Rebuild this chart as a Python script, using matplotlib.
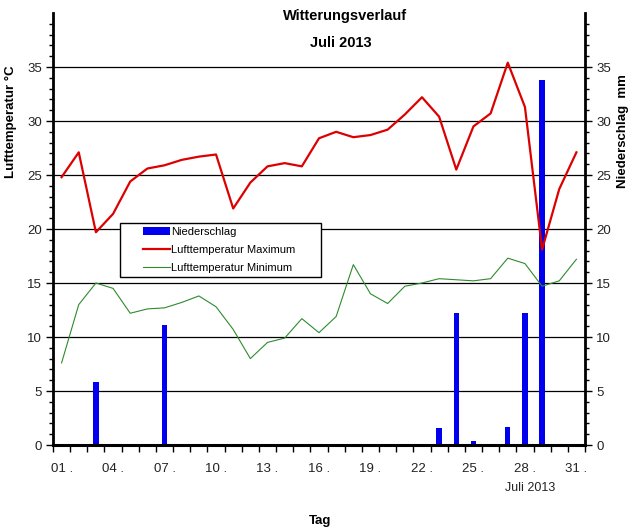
import matplotlib
matplotlib.use("Agg")
import matplotlib.pyplot as plt
from matplotlib.patches import Rectangle
import numpy as np

plt.rcParams['font.family'] = ['Liberation Sans', 'DejaVu Sans']

days = list(range(1, 32))
tmax = [24.8, 27.1, 19.7, 21.4, 24.4, 25.6, 25.9, 26.4, 26.7, 26.9,
        21.9, 24.3, 25.8, 26.1, 25.8, 28.4, 29.0, 28.5, 28.7, 29.2,
        30.6, 32.2, 30.4, 25.5, 29.5, 30.7, 35.4, 31.3, 18.1, 23.7, 27.1]
tmin = [7.6, 13.0, 15.0, 14.5, 12.2, 12.6, 12.7, 13.2, 13.8, 12.8,
        10.7, 8.0, 9.5, 9.9, 11.7, 10.4, 11.9, 16.7, 14.0, 13.1,
        14.7, 15.0, 15.4, 15.3, 15.2, 15.4, 17.3, 16.8, 14.7, 15.2, 17.2]
rain = [0, 0, 5.8, 0, 0, 0, 11.1, 0, 0, 0,
        0, 0, 0, 0, 0, 0, 0, 0, 0, 0,
        0, 0, 1.6, 12.2, 0.4, 0, 1.7, 12.2, 33.8, 0, 0]
tick_days = ["01", "04", "07", "10", "13", "16", "19", "22", "25", "28", "31"]

W, H = 634, 532
fig = plt.figure(figsize=(W/100, H/100), dpi=100)
ax = fig.add_axes([53/W, 1-445/H, (585-53)/W, 432/H])

x = np.array(days)
bars = ax.bar(x, rain, width=0.31, color='#0000EE', zorder=2, label='Niederschlag')
l1, = ax.plot(x, tmax, color='#DD0000', lw=1.6, zorder=4, label='Lufttemperatur Maximum')
l2, = ax.plot(x, tmin, color='#2E8B2E', lw=0.8, zorder=3, label='Lufttemperatur Minimum')

ax.set_xlim(0.5, 31.5)
ax.set_ylim(0, 40)
for v in range(5, 40, 5):
    ax.axhline(v, color='black', lw=0.9, zorder=1)

ax.set_yticks(range(0, 40, 5))
ax.set_yticks(range(0, 40, 1), minor=True)
ax.tick_params(axis='y', which='major', length=5, width=1, labelsize=9.5, pad=3, labelcolor='#222222')
ax.tick_params(axis='y', which='minor', length=3, width=1)

ax.set_xticks(np.arange(0.5, 32, 1))
ax.set_xticklabels([])
lab_pos = [int(d) for d in tick_days]
ax.set_xticks(lab_pos, minor=True)
ax.set_xticklabels([d + " ." for d in tick_days], minor=True)
ax.tick_params(axis='x', which='major', length=5, width=1)
ax.tick_params(axis='x', which='minor', length=0, labelsize=9.5, pad=13, labelcolor='#222222')

ax.spines['top'].set_visible(False)
ax.spines['right'].set_visible(False)
ax.spines['left'].set_linewidth(2)
ax.spines['bottom'].set_linewidth(2.2)

ax2 = ax.twinx()
ax2.set_ylim(0, 40)
ax2.set_yticks(range(0, 40, 5))
ax2.set_yticks(range(0, 40, 1), minor=True)
ax2.tick_params(axis='y', which='major', length=5, width=1, labelsize=9.5, pad=3, labelcolor='#222222')
ax2.tick_params(axis='y', which='minor', length=3, width=1)
ax2.spines['top'].set_visible(False)
ax2.spines['left'].set_visible(False)
ax2.spines['bottom'].set_visible(False)
ax2.spines['right'].set_linewidth(2)

fig.text(345/W, 1-16/H, "Witterungsverlauf", ha='center', va='center', fontsize=10.5, fontweight='bold')
fig.text(341/W, 1-43/H, "Juli 2013", ha='center', va='center', fontsize=10.5, fontweight='bold')
fig.text(11/W, 1-122/H, "Lufttemperatur °C", ha='center', va='center', rotation=90, fontsize=9.5, fontweight='bold')
fig.text(623/W, 1-131/H, "Niederschlag  mm", ha='center', va='center', rotation=90, fontsize=9.5, fontweight='bold')
fig.text(530/W, 1-488/H, "Juli 2013", ha='center', va='center', fontsize=9, color='#222222')
fig.text(320/W, 1-521/H, "Tag", ha='center', va='center', fontsize=9.5, fontweight='bold')

box = Rectangle((120/W, 1-277/H), 201/W, 54/H, transform=fig.transFigure,
                facecolor='white', edgecolor='black', lw=1, zorder=5)
fig.add_artist(box)

leg = fig.legend(handles=[bars, l1, l2], loc='upper left',
                 bbox_to_anchor=(143/W, 1-227/H),
                 fontsize=8, frameon=False, borderpad=0, labelspacing=0.73,
                 handlelength=2.4, handletextpad=0.15, borderaxespad=0)
leg.set_zorder(10)

fig.savefig("out.png", dpi=100)
